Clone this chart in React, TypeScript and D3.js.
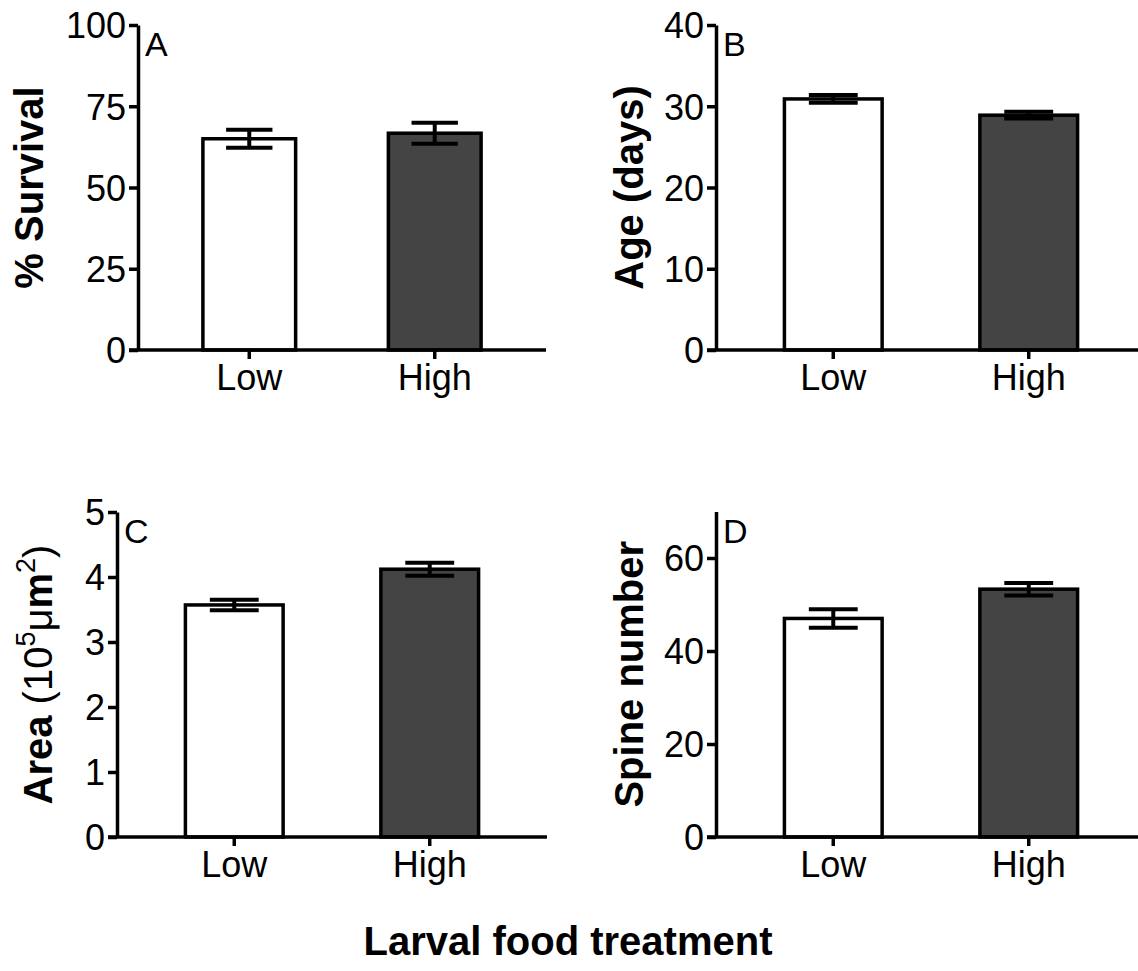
import React, { useEffect, useRef } from 'react';
import * as d3 from 'd3';

// data (mean and error bar half-length)
const categories = ['Low', 'High'];

const survivalMean = [65.0, 66.7];
const survivalErr = [2.75, 3.2];
const survivalTicks = [0, 25, 50, 75, 100];

const ageMean = [30.9, 28.9];
const ageErr = [0.47, 0.41];
const ageTicks = [0, 10, 20, 30, 40];

const areaMean = [3.57, 4.12];
const areaErr = [0.08, 0.1];
const areaTicks = [0, 1, 2, 3, 4, 5];

const spineMean = [47.0, 53.3];
const spineErr = [2.0, 1.35];
const spineTicks = [0, 20, 40, 60];

const barFills = ['#ffffff', '#444444'];
const xTitle = 'Larval food treatment';

const FONT = "'Liberation Sans', Arial, Helvetica, sans-serif";

const App = () => {
  const svgRef = useRef(null);

  useEffect(() => {
    const svg = d3.select(svgRef.current);
    svg.selectAll('*').remove();

    // layout of the four panels (left = y axis position)
    const panels = [
      { letter: 'A', means: survivalMean, errs: survivalErr, ticks: survivalTicks, domain: [0, 100],
        left: 138, right: 546, top: 25, bottom: 350, titleX: 43, title: [{ t: '% Survival', b: true }] },
      { letter: 'B', means: ageMean, errs: ageErr, ticks: ageTicks, domain: [0, 40],
        left: 716, right: 1146, top: 25, bottom: 350, titleX: 643, title: [{ t: 'Age (days)', b: true }] },
      { letter: 'C', means: areaMean, errs: areaErr, ticks: areaTicks, domain: [0, 5],
        left: 117, right: 547, top: 512, bottom: 837, titleX: 52,
        title: [
          { t: 'Area ', b: true },
          { t: '(10', b: false },
          { t: '5', b: false, sup: true },
          { t: '\u03bc', b: false },
          { t: 'm', b: true },
          { t: '2', b: false, sup: true },
          { t: ')', b: false },
        ] },
      { letter: 'D', means: spineMean, errs: spineErr, ticks: spineTicks, domain: [0, 70],
        left: 716, right: 1146, top: 511.5, bottom: 837, titleX: 643, title: [{ t: 'Spine number', b: true }] },
    ];

    panels.forEach(p => {
      const g = svg.append('g');

      const x = d3.scaleBand()
        .domain(categories)
        .range([p.left, p.right])
        .paddingInner(0.5)
        .paddingOuter(0.35);

      const y = d3.scaleLinear()
        .domain(p.domain)
        .range([p.bottom, p.top]);

      const bw = x.bandwidth();

      // bars
      g.selectAll('.bar')
        .data(p.means)
        .enter().append('rect')
        .attr('class', 'bar')
        .attr('x', (d, i) => x(categories[i]))
        .attr('y', d => y(d))
        .attr('width', bw)
        .attr('height', d => y(0) - y(d))
        .attr('fill', (d, i) => barFills[i])
        .attr('stroke', '#000')
        .attr('stroke-width', 3.5);

      // error bars
      const eb = g.selectAll('.err')
        .data(p.means.map((m, i) => ({ m, e: p.errs[i], c: categories[i] })))
        .enter().append('g')
        .attr('class', 'err')
        .attr('stroke', '#000')
        .attr('stroke-width', 4);

      eb.append('line')
        .attr('x1', d => x(d.c) + bw / 2)
        .attr('x2', d => x(d.c) + bw / 2)
        .attr('y1', d => y(d.m - d.e))
        .attr('y2', d => y(d.m + d.e));
      [1, -1].forEach(s => {
        eb.append('line')
          .attr('x1', d => x(d.c) + bw / 4)
          .attr('x2', d => x(d.c) + bw * 3 / 4)
          .attr('y1', d => y(d.m + s * d.e))
          .attr('y2', d => y(d.m + s * d.e));
      });

      // y axis
      const yAxis = g.append('g')
        .attr('transform', `translate(${p.left},0)`)
        .call(d3.axisLeft(y).tickValues(p.ticks).tickFormat(d3.format('d')).tickSize(9).tickSizeOuter(0).tickPadding(3));
      yAxis.select('.domain').attr('stroke-width', 3.5);
      yAxis.selectAll('.tick line').attr('stroke-width', 3.5);
      yAxis.selectAll('.tick text')
        .attr('font-family', FONT)
        .attr('font-size', 36)
        .attr('fill', '#000')
        .attr('dy', '0.36em');

      // x axis
      const xAxis = g.append('g')
        .attr('transform', `translate(0,${p.bottom})`)
        .call(d3.axisBottom(x).tickSize(9).tickSizeOuter(0).tickPadding(0));
      xAxis.select('.domain').remove();
      xAxis.append('line')
        .attr('x1', p.left - 9)
        .attr('x2', p.right)
        .attr('stroke', '#000')
        .attr('stroke-width', 3.5);
      xAxis.selectAll('.tick line').attr('stroke-width', 3.5);
      xAxis.selectAll('.tick text')
        .attr('font-family', FONT)
        .attr('font-size', 36)
        .attr('fill', '#000')
        .attr('y', 40)
        .attr('dy', 0);

      // panel letter
      g.append('text')
        .attr('x', p.left + 7)
        .attr('y', p.top + 31)
        .attr('font-family', FONT)
        .attr('font-size', 34)
        .text(p.letter);

      // y title (superscripts done with dy so they stay put after rotation)
      const title = g.append('text')
        .attr('transform', `translate(${p.titleX},${(p.top + p.bottom) / 2}) rotate(-90)`)
        .attr('text-anchor', 'middle')
        .attr('font-family', FONT)
        .attr('font-size', 40);
      let raised = false;
      p.title.forEach(part => {
        const shift = part.sup && !raised ? -17 : !part.sup && raised ? 17 : 0;
        raised = !!part.sup;
        title.append('tspan')
          .attr('font-weight', part.b ? 'bold' : 'normal')
          .attr('font-size', part.sup ? 27 : 40)
          .attr('dy', shift || null)
          .text(part.t);
      });
    });

    // shared x title
    svg.append('text')
      .attr('x', 568)
      .attr('y', 955)
      .attr('text-anchor', 'middle')
      .attr('font-family', FONT)
      .attr('font-weight', 'bold')
      .attr('font-size', 40)
      .text(xTitle);
  }, []);

  return (
    <div style={{ position: 'absolute', left: 0, top: 0 }}>
      <svg ref={svgRef} width={1138} height={971} style={{ display: 'block', background: '#fff' }} />
    </div>
  );
};

export default App;
